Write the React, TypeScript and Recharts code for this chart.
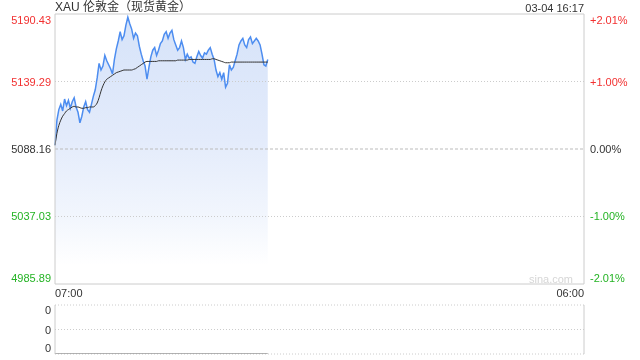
import { ComposedChart, Area, Line, XAxis, YAxis, ReferenceLine } from 'recharts'

// minutes after 07:00, one point every 5 minutes
const prices = [
  5091, 5110, 5118, 5122, 5117, 5126, 5121, 5125, 5119, 5124,
  5127, 5120, 5116, 5108, 5113, 5120, 5124, 5118, 5116, 5122,
  5128, 5133, 5142, 5153, 5148, 5151, 5159, 5155, 5152, 5149,
  5145, 5156, 5164, 5170, 5177, 5171, 5174, 5182, 5188, 5183,
  5179, 5172, 5176, 5174, 5166, 5160, 5155, 5151, 5141, 5150,
  5158, 5163, 5165, 5159, 5163, 5168, 5170, 5175, 5177, 5172,
  5176, 5178, 5171, 5167, 5163, 5165, 5170, 5165, 5156, 5160,
  5157, 5158, 5154, 5153, 5158, 5162, 5159, 5157, 5161, 5160,
  5163, 5165, 5160, 5156, 5148, 5143, 5146, 5141, 5146, 5135,
  5138, 5152, 5148, 5150, 5155, 5160, 5167, 5170, 5172, 5167,
  5165, 5171, 5173, 5168, 5170, 5172, 5170, 5167, 5160, 5152,
  5151, 5156,
]
const averages = [
  5091, 5100, 5106, 5110, 5113, 5115, 5117, 5118, 5119, 5120,
  5120.5, 5120, 5120, 5119.5, 5119, 5119, 5119.5, 5119.5, 5120, 5120,
  5120, 5121, 5123, 5127, 5132, 5136, 5139, 5141, 5142, 5143,
  5144, 5145, 5146, 5146.5, 5147, 5147.5, 5148, 5148, 5148, 5148,
  5148, 5148.5, 5149, 5150, 5151, 5152, 5153, 5154, 5154.5, 5154.5,
  5154.5, 5154.5, 5154.5, 5154.5, 5155, 5155, 5155, 5155, 5155, 5155,
  5155, 5155, 5155, 5155, 5155.5, 5155.5, 5155.5, 5155.5, 5155.5, 5155.5,
  5156, 5156, 5156, 5156, 5156, 5156, 5156, 5156, 5156, 5156,
  5156, 5156, 5156.5, 5156.5, 5156, 5155.5, 5155, 5154.5, 5154, 5153.5,
  5153.5, 5153.5, 5154, 5154, 5154, 5154, 5154, 5154, 5154, 5154,
  5154, 5154, 5154, 5154, 5154, 5154, 5154, 5154, 5154, 5154,
  5154, 5154,
]
const volumes = prices.map(() => 0)

const priceTicks = [4985.89, 5037.03, 5088.16, 5139.29, 5190.43]
const pctTicks = [-2.01, -1.0, 0, 1.0, 2.01]
const timeTicks = [0, 1380]
const timeLabels = ['07:00', '06:00']
const volTicks = [0, 1, 2]

const data = prices.map((p, i) => ({ t: i * 5, price: p, avg: averages[i], vol: volumes[i] }))

const FONT = 'Arial, "Liberation Sans", "Noto Sans CJK SC", sans-serif'
const RED = '#f23030'
const GREEN = '#24b324'
const GRID = '#cccccc'

function colorFor(v: number) {
  if (v > 0.001) return RED
  if (v < -0.001) return GREEN
  return '#333'
}

const PriceTick = (props: any) => {
  const { x, y, payload, index } = props
  const v = payload.value
  const shift = index === 0 ? -6 : index === priceTicks.length - 1 ? 6 : 0
  return (
    <text x={x + 4} y={y + shift} dy={4} textAnchor="end" fontSize={11} fontFamily={FONT} fill={colorFor(v - 5088.16)}>
      {v.toFixed(2)}
    </text>
  )
}

const PctTick = (props: any) => {
  const { x, y, payload, index } = props
  const v = payload.value
  const shift = index === 0 ? -6 : index === pctTicks.length - 1 ? 6 : 0
  const label = (v > 0 ? '+' : '') + v.toFixed(2) + '%'
  return (
    <text x={x - 2} y={y + shift} dy={4} textAnchor="start" fontSize={11} fontFamily={FONT} fill={colorFor(v)}>
      {label}
    </text>
  )
}

const TimeTick = (props: any) => {
  const { x, y, index } = props
  return (
    <text x={x} y={y} dy={5} textAnchor={index === 0 ? 'start' : 'end'} fontSize={11} fontFamily={FONT} fill="#333">
      {timeLabels[index]}
    </text>
  )
}

const VolTick = (props: any) => {
  const { x, y, index } = props
  const shift = index === 0 ? -6 : index === volTicks.length - 1 ? 5 : 0
  return (
    <text x={x + 4} y={y + shift} dy={4} textAnchor="end" fontSize={11} fontFamily={FONT} fill="#333">
      0
    </text>
  )
}

export default function App() {
  return (
    <div style={{ position: 'fixed', left: 0, top: 0, width: 640, height: 360, background: '#fff', fontFamily: FONT }}>
      <div style={{ position: 'absolute', left: 55, top: 0, fontSize: 12, color: '#333', lineHeight: '14px' }}>
        XAU 伦敦金（现货黄金）
      </div>
      <div style={{ position: 'absolute', right: 56, top: 1, fontSize: 11, color: '#333', lineHeight: '14px' }}>
        03-04 16:17
      </div>
      <div style={{ position: 'absolute', right: 67, top: 272, fontSize: 11, color: '#d6d6d6', lineHeight: '14px' }}>
        sina.com
      </div>

      <div style={{ position: 'absolute', left: 0, top: 0 }}>
        <ComposedChart width={640} height={304} data={data} margin={{ top: 14, right: 0, left: 0, bottom: 0 }}>
          <defs>
            <linearGradient id="fillGrad" x1="0" y1="0" x2="0" y2="1">
              <stop offset="0%" stopColor="#d6e3f9" stopOpacity={1} />
              <stop offset="45%" stopColor="#e3ebfb" stopOpacity={1} />
              <stop offset="75%" stopColor="#f2f6fd" stopOpacity={1} />
              <stop offset="93%" stopColor="#ffffff" stopOpacity={1} />
              <stop offset="100%" stopColor="#ffffff" stopOpacity={1} />
            </linearGradient>
          </defs>
          <XAxis
            dataKey="t"
            type="number"
            domain={[0, 1380]}
            ticks={timeTicks}
            tick={<TimeTick />}
            tickLine={false}
            axisLine={{ stroke: GRID }}
            interval={0}
            height={20}
          />
          <YAxis
            yAxisId="price"
            domain={[4985.89, 5190.43]}
            ticks={priceTicks}
            tick={<PriceTick />}
            tickLine={false}
            axisLine={{ stroke: GRID }}
            interval={0}
            width={55}
            allowDataOverflow
          />
          <YAxis
            yAxisId="pct"
            orientation="right"
            domain={[-2.01, 2.01]}
            ticks={pctTicks}
            tick={<PctTick />}
            tickLine={false}
            axisLine={{ stroke: GRID }}
            interval={0}
            width={56}
            allowDataOverflow
          />
          <ReferenceLine yAxisId="price" y={5190.43} stroke={GRID} />
          <ReferenceLine yAxisId="price" y={5139.29} stroke={GRID} strokeDasharray="1 2" />
          <ReferenceLine yAxisId="price" y={5088.16} stroke="#bbbbbb" strokeDasharray="3 2" />
          <ReferenceLine yAxisId="price" y={5037.03} stroke={GRID} strokeDasharray="1 2" />
          <Area
            yAxisId="price"
            type="linear"
            dataKey="price"
            stroke="#4d8df0"
            strokeWidth={1.5}
            fill="url(#fillGrad)"
            fillOpacity={1}
            baseValue={4985.89}
            isAnimationActive={false}
            dot={false}
            activeDot={false}
          />
          <Line
            yAxisId="price"
            type="monotone"
            dataKey="avg"
            stroke="#333"
            strokeWidth={1}
            dot={false}
            activeDot={false}
            isAnimationActive={false}
          />
        </ComposedChart>
      </div>

      <div style={{ position: 'absolute', left: 0, top: 300 }}>
        <ComposedChart width={640} height={60} data={data} margin={{ top: 5, right: 56, left: 0, bottom: 6 }}>
          <XAxis dataKey="t" type="number" domain={[0, 1380]} hide />
          <YAxis
            domain={[0, 2]}
            ticks={volTicks}
            tick={<VolTick />}
            tickLine={false}
            axisLine={{ stroke: GRID }}
            interval={0}
            width={55}
            allowDataOverflow
          />
          <ReferenceLine y={2} stroke={GRID} strokeDasharray="1 2" />
          <ReferenceLine y={1} stroke={GRID} strokeDasharray="1 2" />
          <ReferenceLine y={0} stroke={GRID} strokeDasharray="1 2" />
          <ReferenceLine x={1380} stroke={GRID} />
          <Line
            type="linear"
            dataKey="vol"
            stroke="#999"
            strokeWidth={1.5}
            dot={false}
            activeDot={false}
            isAnimationActive={false}
          />
        </ComposedChart>
      </div>
    </div>
  )
}
